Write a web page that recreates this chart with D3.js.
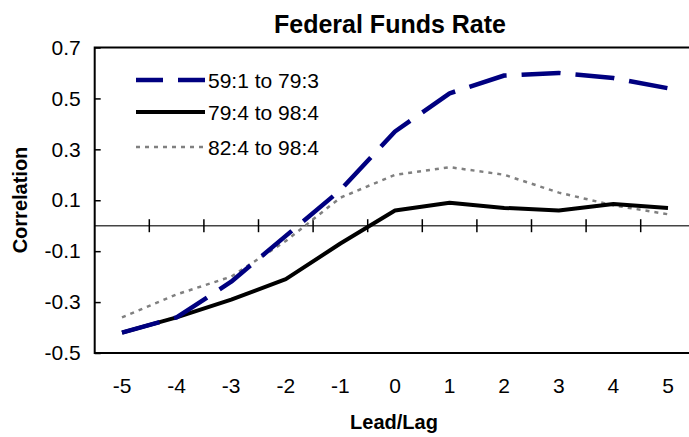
<!DOCTYPE html>
<html lang="en">
<head>
<meta charset="utf-8">
<title>Federal Funds Rate</title>
<style>
  body { margin: 0; background: #fff; }
  svg { display: block; font-family: "Liberation Sans", Arial, sans-serif; }
  .axis text { font-size: 21px; fill: #000; }
  .axis .domain { display: none; }
</style>
</head>
<body>
<svg class="chart"></svg>
<script src="https://cdnjs.cloudflare.com/ajax/libs/d3/7.8.5/d3.min.js"></script>
<script>
  const width = 689;
  const height = 437;

  // lead/lag categories and y tick labels
  const lags = [-5, -4, -3, -2, -1, 0, 1, 2, 3, 4, 5];
  const yTicks = [-0.5, -0.3, -0.1, 0.1, 0.3, 0.5, 0.7];

  // correlations
  const names = ["59:1 to 79:3", "79:4 to 98:4", "82:4 to 98:4"];
  const early = [-0.42, -0.36, -0.22, -0.04, 0.14, 0.37, 0.52, 0.59, 0.60, 0.58, 0.54];
  const late = [-0.42, -0.36, -0.29, -0.21, -0.07, 0.06, 0.09, 0.07, 0.06, 0.085, 0.07];
  const recent = [-0.36, -0.27, -0.20, -0.06, 0.11, 0.20, 0.23, 0.20, 0.13, 0.08, 0.045];

  const styles = [
    {color: "#000080", width: 4.5, dash: "39,15", legendOffset: 12},
    {color: "#000000", width: 4, dash: null, legendOffset: 0},
    {color: "#808080", width: 2.5, dash: "4,5", legendOffset: 0}
  ];

  const series = [early, late, recent].map((vals, i) => ({
    name: names[i],
    style: styles[i],
    points: lags.map((lag, j) => ({lag: lag, v: vals[j]}))
  }));

  const plot = {left: 94.7, right: 695.3, top: 47.5, bottom: 353};

  const x = d3.scaleBand()
    .domain(lags)
    .range([plot.left, plot.right])
    .padding(0);

  const y = d3.scaleLinear()
    .domain([-0.5, 0.7])
    .range([plot.bottom, plot.top]);

  const svg = d3.select(".chart")
    .attr("width", width)
    .attr("height", height);

  // title
  svg.append("text")
    .attr("x", 390)
    .attr("y", 33)
    .attr("text-anchor", "middle")
    .style("font-size", "25px")
    .style("font-weight", "bold")
    .text("Federal Funds Rate");

  // y axis (ticks point inward)
  svg.append("g")
    .attr("class", "axis")
    .attr("transform", `translate(${plot.left},0)`)
    .call(d3.axisLeft(y).tickValues(yTicks).tickSize(-6).tickPadding(14)
      .tickFormat(d => d.toFixed(1)))
    .call(g => g.selectAll(".tick line").attr("stroke", "#000").attr("stroke-width", 1.5));

  // x labels along the bottom
  svg.append("g")
    .attr("class", "axis")
    .attr("transform", `translate(0,${plot.bottom})`)
    .call(d3.axisBottom(x).tickSize(0).tickPadding(25.5))
    .call(g => g.selectAll(".tick line").remove());

  // zero line with boundary ticks
  const zero = svg.append("g");
  zero.append("line")
    .attr("x1", plot.left).attr("x2", plot.right)
    .attr("y1", y(0)).attr("y2", y(0))
    .attr("stroke", "#444").attr("stroke-width", 1.5);
  zero.selectAll("line.tk")
    .data(lags.slice(1))
    .enter().append("line")
    .attr("class", "tk")
    .attr("x1", d => x(d)).attr("x2", d => x(d))
    .attr("y1", y(0) - 6.5).attr("y2", y(0) + 6.5)
    .attr("stroke", "#000").attr("stroke-width", 1.5);

  // frame
  svg.append("rect")
    .attr("x", plot.left).attr("y", plot.top)
    .attr("width", plot.right - plot.left)
    .attr("height", plot.bottom - plot.top)
    .attr("fill", "none")
    .attr("stroke", "#000").attr("stroke-width", 2);

  // axis titles
  svg.append("text")
    .attr("x", 394).attr("y", 429)
    .attr("text-anchor", "middle")
    .style("font-size", "20px").style("font-weight", "bold")
    .text("Lead/Lag");

  svg.append("text")
    .attr("transform", "translate(27,200) rotate(-90)")
    .attr("text-anchor", "middle")
    .style("font-size", "20px").style("font-weight", "bold")
    .text("Correlation");

  const line = d3.line()
    .x(d => x(d.lag) + x.bandwidth() / 2)
    .y(d => y(d.v));

  // draw dotted first, then solid, then dashed on top
  svg.selectAll("path.series")
    .data(series.slice().reverse())
    .enter().append("path")
    .attr("class", "series")
    .attr("d", d => line(d.points))
    .attr("fill", "none")
    .attr("stroke", d => d.style.color)
    .attr("stroke-width", d => d.style.width)
    .attr("stroke-dasharray", d => d.style.dash)
    .attr("stroke-linejoin", "round");

  // legend
  const legendY = [80, 112, 147];
  const legend = svg.selectAll("g.legend")
    .data(series)
    .enter().append("g")
    .attr("class", "legend")
    .attr("transform", (d, i) => `translate(136,${legendY[i]})`);

  legend.append("line")
    .attr("x1", 0).attr("x2", 69)
    .attr("stroke", d => d.style.color)
    .attr("stroke-width", d => d.style.width)
    .attr("stroke-dasharray", d => d.style.dash)
    .attr("stroke-dashoffset", d => d.style.legendOffset);

  legend.append("text")
    .attr("x", 72)
    .attr("y", 1)
    .attr("dy", "0.35em")
    .style("font-size", "21px")
    .text(d => d.name);
</script>
</body>
</html>
